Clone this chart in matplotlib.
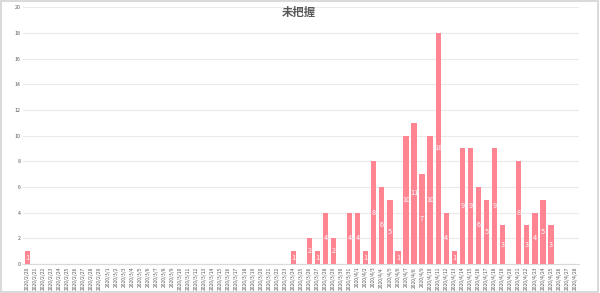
import matplotlib

matplotlib.use("Agg")
import matplotlib.pyplot as plt
import pandas as pd

plt.rcParams["font.family"] = ["Noto Sans CJK JP", "DejaVu Sans"]

# categories: one per day, 2020/2/20 .. 2020/4/28
dates = pd.date_range("2020-02-20", "2020-04-28", freq="D")
date_labels = [f"{d.year}/{d.month}/{d.day}" for d in dates]

counts = [
    1, 0, 0, 0, 0, 0, 0, 0, 0, 0,   # 2/20 - 2/29
    0, 0, 0, 0, 0, 0, 0, 0, 0, 0,   # 3/1 - 3/10
    0, 0, 0, 0, 0, 0, 0, 0, 0, 0,   # 3/11 - 3/20
    0, 0, 0, 1, 0, 2, 1, 4, 2, 0,   # 3/21 - 3/30
    4,                              # 3/31
    4, 1, 8, 6, 5, 1, 10, 11, 7, 10,  # 4/1 - 4/10
    18, 4, 1, 9, 9, 6, 5, 9, 3, 0,    # 4/11 - 4/20
    8, 3, 4, 5, 3, 0, 0, 0,           # 4/21 - 4/28
]

title = "未把握"
y_ticks = list(range(0, 21, 2))

bar_color = "#FF8593"
grid_color = "#EBEBEB"
text_color = "#595959"

fig = plt.figure(figsize=(6.0, 2.93), dpi=100)
fig.patch.set_facecolor("white")
ax = fig.add_axes([0.0388, 0.099, 0.9265, 0.876])

x = list(range(len(date_labels)))
ax.bar(x, counts, width=0.66, color=bar_color, zorder=2)

for xi, v in zip(x, counts):
    if v > 0:
        ax.text(xi, v / 2, str(v), ha="center", va="center",
                color="white", fontsize=5.2, zorder=3)

ax.set_xlim(-0.5, len(date_labels) - 0.5)
ax.set_ylim(0, 20)
ax.set_yticks(y_ticks)
ax.set_yticklabels([str(t) for t in y_ticks], fontsize=3.8, color=text_color)
ax.set_xticks(x)
ax.set_xticklabels(date_labels, rotation=90, fontsize=3.6, color=text_color)
ax.tick_params(axis="both", length=0, pad=2)
ax.yaxis.grid(True, color=grid_color, linewidth=0.8, zorder=0)
ax.set_axisbelow(True)
for name, spine in ax.spines.items():
    spine.set_visible(name == "bottom")
ax.spines["bottom"].set_color("#D9D9D9")
ax.spines["bottom"].set_linewidth(0.8)

fig.text(0.498, 0.957, title, ha="center", va="center",
         fontsize=8.2, fontweight="bold", color=text_color)

# light frame around the chart area
frame = plt.Rectangle((0.002, 0.004), 0.995, 0.992, transform=fig.transFigure,
                      fill=False, edgecolor="#D9D9D9", linewidth=1.4)
fig.patches.append(frame)

fig.savefig("out.png", dpi=100)
